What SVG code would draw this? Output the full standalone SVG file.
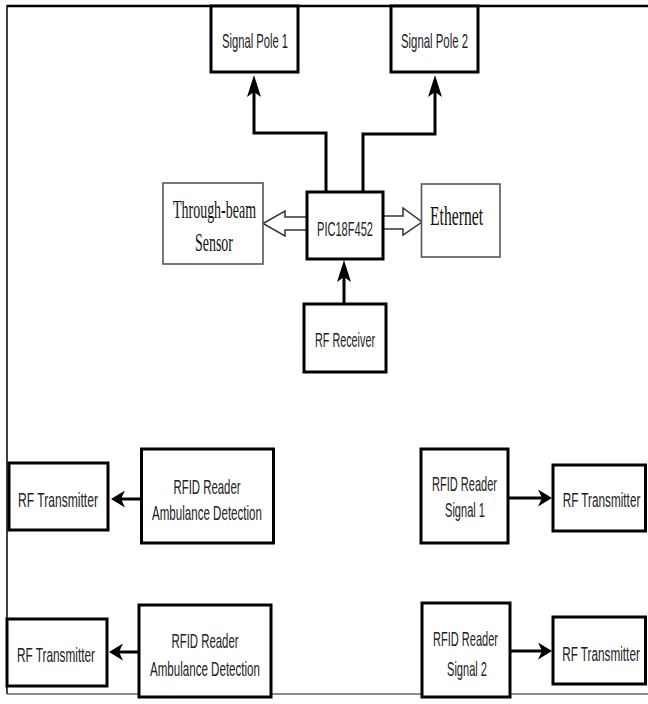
<svg xmlns="http://www.w3.org/2000/svg" width="648" height="704" viewBox="0 0 648 704">
<style>
.bx{fill:#fff;stroke:#000;stroke-width:3}
.tb{fill:#fff;stroke:#555;stroke-width:1.6}
.s{font-family:"Liberation Sans",Arial,sans-serif;font-size:21px;fill:#222;text-anchor:middle}
.r{font-family:"Liberation Serif","Times New Roman",serif;font-size:26px;fill:#111;text-anchor:middle}
.ln{fill:none;stroke:#000;stroke-width:3}
.ho{fill:#fff;stroke:#333;stroke-width:1.5}
</style>
<defs>
<marker id="arrV" viewBox="0 0 22 14" refX="6" refY="7" markerWidth="22" markerHeight="14" markerUnits="userSpaceOnUse" orient="auto">
<path d="M0,0 L22,7 L0,14 L5,7 Z" fill="#000"/>
</marker>
<marker id="arrH" viewBox="0 0 14 17" refX="5" refY="8.5" markerWidth="14" markerHeight="17" markerUnits="userSpaceOnUse" orient="auto">
<path d="M0,0 L14,8.5 L0,17 L4,8.5 Z" fill="#000"/>
</marker>
</defs>
<rect width="648" height="704" fill="#fff"/>
<g id="frame">
<line x1="7" y1="6" x2="648" y2="6" stroke="#000" stroke-width="2.5"/>
<line x1="7" y1="5" x2="7" y2="694" stroke="#000" stroke-width="1.5"/>
<line x1="7" y1="694" x2="648" y2="694" stroke="#666" stroke-width="1.5"/>
</g>
<g id="connectors">
<path class="ln" d="M326,192 V133 H254 V91" marker-end="url(#arrV)"/>
<path class="ln" d="M363,192 V134 H435 V91" marker-end="url(#arrV)"/>
<path class="ln" d="M344,304 V276" marker-end="url(#arrV)"/>
<polygon class="ho" points="307,217 285,217 285,211 263,223.5 285,236 285,230 307,230"/>
<polygon class="ho" points="383,216 403,216 403,208 422,222 403,235 403,229 383,229"/>
<path class="ln" d="M141,499 H120" marker-end="url(#arrH)"/>
<path class="ln" d="M139,652 H118" marker-end="url(#arrH)"/>
<path class="ln" d="M508,498 H543" marker-end="url(#arrH)"/>
<path class="ln" d="M510,651 H543" marker-end="url(#arrH)"/>
</g>
<g id="signal-pole-1"><rect class="bx" x="211" y="6" width="87" height="66"/><text class="s" x="255" y="48" textLength="66" lengthAdjust="spacingAndGlyphs">Signal Pole 1</text></g>
<g id="signal-pole-2"><rect class="bx" x="391" y="6" width="87" height="66"/><text class="s" x="434.5" y="48" textLength="67" lengthAdjust="spacingAndGlyphs">Signal Pole 2</text></g>
<g id="pic"><rect class="bx" x="307" y="192" width="76" height="67"/><text class="s" x="345" y="236" textLength="56" lengthAdjust="spacingAndGlyphs">PIC18F452</text></g>
<g id="sensor"><rect class="tb" x="163" y="183" width="100" height="81"/><text class="r" x="214.5" y="218" textLength="83" lengthAdjust="spacingAndGlyphs">Through-beam</text><text class="r" x="214" y="251" textLength="38" lengthAdjust="spacingAndGlyphs">Sensor</text></g>
<g id="ethernet"><rect class="tb" x="421.5" y="184" width="78.5" height="73"/><text class="r" x="456.5" y="225" style="font-size:27px" textLength="53" lengthAdjust="spacingAndGlyphs">Ethernet</text></g>
<g id="rf-receiver"><rect class="bx" x="304" y="304" width="82" height="68"/><text class="s" x="345" y="347" textLength="60" lengthAdjust="spacingAndGlyphs">RF Receiver</text></g>
<g id="rf-tx-l1"><rect class="bx" x="9" y="463" width="99" height="67"/><text class="s" x="58" y="507" textLength="80" lengthAdjust="spacingAndGlyphs">RF Transmitter</text></g>
<g id="rfid-amb-1"><rect class="bx" x="141.5" y="449" width="132" height="94"/><text class="s" x="207" y="494" textLength="67" lengthAdjust="spacingAndGlyphs">RFID Reader</text><text class="s" x="207" y="520" textLength="110" lengthAdjust="spacingAndGlyphs">Ambulance Detection</text></g>
<g id="rf-tx-l2"><rect class="bx" x="7" y="619" width="100" height="67"/><text class="s" x="56" y="662" textLength="78" lengthAdjust="spacingAndGlyphs">RF Transmitter</text></g>
<g id="rfid-amb-2"><rect class="bx" x="139" y="605" width="132" height="92"/><text class="s" x="205" y="648" textLength="67" lengthAdjust="spacingAndGlyphs">RFID Reader</text><text class="s" x="205" y="676" textLength="110" lengthAdjust="spacingAndGlyphs">Ambulance Detection</text></g>
<g id="rfid-sig-1"><rect class="bx" x="421" y="449" width="87" height="94"/><text class="s" x="464.5" y="491" textLength="65" lengthAdjust="spacingAndGlyphs">RFID Reader</text><text class="s" x="465" y="517" textLength="40" lengthAdjust="spacingAndGlyphs">Signal 1</text></g>
<g id="rf-tx-r1"><rect class="bx" x="553" y="465" width="92.5" height="66"/><text class="s" transform="translate(601.5,507) scale(0.56,1)" x="0" y="0">RF Transmitter</text></g>
<g id="rfid-sig-2"><rect class="bx" x="422" y="603" width="88" height="94"/><text class="s" x="465.5" y="646" textLength="65" lengthAdjust="spacingAndGlyphs">RFID Reader</text><text class="s" x="467" y="676" textLength="40" lengthAdjust="spacingAndGlyphs">Signal 2</text></g>
<g id="rf-tx-r2"><rect class="bx" x="553" y="617" width="92.5" height="67"/><text class="s" transform="translate(601,661) scale(0.56,1)" x="0" y="0">RF Transmitter</text></g>
</svg>
